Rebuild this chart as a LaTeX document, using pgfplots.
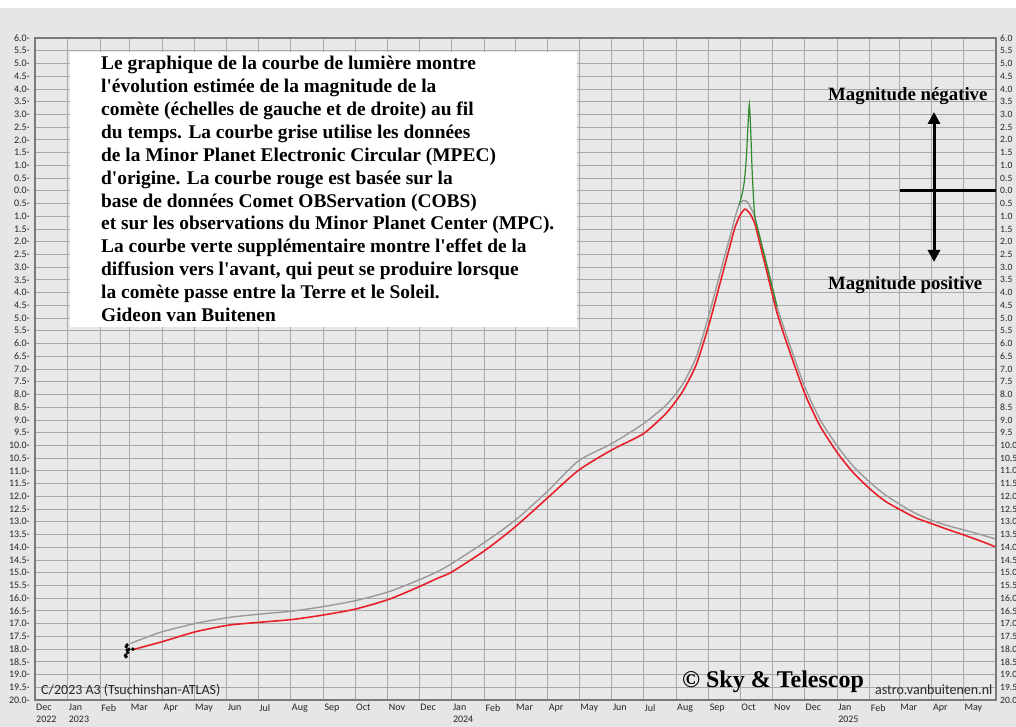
\documentclass[border=0pt]{standalone}
\usepackage{pgfplots}
\pgfplotsset{compat=1.18}
\usepackage{pgfplotstable}
\usepackage{fontspec}
\setmainfont{Liberation Serif}
\newfontfamily\calibri{Carlito}
\usetikzlibrary{arrows.meta}
\definecolor{pagebg}{HTML}{E6E6E6}
\definecolor{plotbg}{HTML}{E8E8E8}
\definecolor{gridc}{HTML}{A8A8A8}
\definecolor{framec}{HTML}{7A7A7A}
\definecolor{graycurve}{HTML}{9A9A9A}
\definecolor{redcurve}{HTML}{E8202A}
\definecolor{greencurve}{HTML}{2E8B2E}

\pgfplotstableread{
day mag
90.8 17.78
105 17.55
120.8 17.32
152.5 16.99
184 16.76
212.6 16.63
244 16.51
272.7 16.34
304.3 16.10
336 15.75
364.4 15.29
381.8 14.97
396 14.64
427.7 13.79
456.2 12.94
486.2 11.83
516.3 10.61
547.9 9.93
578 9.15
600 8.40
615 7.62
628 6.55
640 4.92
652.3 3.01
660 1.85
665 1.05
669 0.55
673 0.38
677 0.45
681 0.75
684 1.05
690 2.05
696.6 3.14
705 4.55
715.6 5.88
731.4 7.71
746 9.00
763 10.07
778 10.85
794.6 11.50
808 11.95
823 12.35
837 12.68
851.6 12.94
867 13.15
883.3 13.33
898 13.50
913 13.68
}\graydata

\pgfplotstableread{
day mag
94 18.01
120.8 17.71
152.5 17.32
184 17.06
212.6 16.95
244 16.84
272.7 16.67
304.3 16.43
336 16.05
364.4 15.56
381.8 15.23
396 14.97
427.7 14.12
456.2 13.20
486.2 12.09
516.3 10.98
547.9 10.18
578 9.54
600 8.72
615 7.90
628 6.85
640 5.30
652.3 3.40
660 2.20
665 1.44
670 0.95
674.5 0.72
679 0.88
684 1.31
690 2.30
696.6 3.40
705 4.80
715.6 6.15
731.4 7.97
746 9.25
763 10.33
778 11.10
794.6 11.76
808 12.20
823 12.55
837 12.85
851.6 13.07
867 13.30
883.3 13.53
898 13.75
913 13.99
}\reddata

\pgfplotstableread{
day mag
669 0.55
672 0.10
674 -0.40
675.5 -1.10
676.7 -2.00
677.8 -2.90
678.6 -3.40
679.4 -2.90
680.3 -2.00
681.3 -0.80
682.5 0.20
684 1.05
690 2.05
696.6 3.14
705 4.55
}\greendata

\pgfplotstableread{
day mag
86.7 17.91
87.6 18.04
89.2 18.01
93 18.00
86 18.24
88 18.14
87.5 17.84
86.5 18.30
}\obsdata

\begin{document}
\begin{tikzpicture}
\fill[pagebg] (0,0) rectangle (1016pt,719pt);
\fill[white] (0,719pt) rectangle (1016pt,727pt);
\begin{axis}[
  at={(35pt,27pt)}, anchor=south west,
  scale only axis, width=961pt, height=662pt,
  xmin=0, xmax=913, ymin=-6, ymax=20, y dir=reverse,
  axis background/.style={fill=plotbg},
  /pgf/number format/assume math mode=true,
  xtick={0,31,62,90,121,151,182,212,243,274,304,335,365,396,427,456,487,517,548,578,609,640,670,701,731,762,793,821,852,882},
  xticklabels={{Dec\\2022},{Jan\\2023},Feb,Mar,Apr,May,Jun,Jul,Aug,Sep,Oct,Nov,Dec,{Jan\\2024},Feb,Mar,Apr,May,Jun,Jul,Aug,Sep,Oct,Nov,Dec,{Jan\\2025},Feb,Mar,Apr,May},
  xticklabel style={anchor=north west, align=left, inner sep=0pt, yshift=-4pt, xshift=1pt, font=\calibri\fontsize{10}{12}\selectfont, text=black!85},
  ytick={-6,-5.5,...,20},
  yticklabel={\pgfmathparse{abs(\tick)}\pgfmathprintnumber[fixed,fixed zerofill,precision=1]{\pgfmathresult}-},
  yticklabel style={inner xsep=0pt, xshift=-5pt, font=\calibri\fontsize{10}{12}\selectfont, text=black!85},
  major tick length=0pt,
  grid=major, grid style={gridc, line width=0.8pt},
  axis line style={framec, line width=2pt},
]
\addplot[graycurve, line width=1.4pt, smooth, tension=0.4] table[x=day,y=mag] {\graydata};
\addplot[redcurve, line width=1.6pt, smooth, tension=0.4] table[x=day,y=mag] {\reddata};
\addplot[greencurve, line width=1.2pt, smooth, tension=0.3] table[x=day,y=mag] {\greendata};
\addplot[only marks, mark=*, mark size=1.6pt, black] table[x=day,y=mag] {\obsdata};
\end{axis}
\begin{axis}[
  at={(35pt,27pt)}, anchor=south west,
  scale only axis, width=961pt, height=662pt,
  xmin=0, xmax=913, ymin=-6, ymax=20, y dir=reverse,
  axis x line=none, axis y line*=right,
  /pgf/number format/assume math mode=true,
  ytick={-6,-5.5,...,20},
  yticklabel={\pgfmathparse{abs(\tick)}\pgfmathprintnumber[fixed,fixed zerofill,precision=1]{\pgfmathresult}},
  yticklabel style={anchor=west, inner xsep=0pt, xshift=4pt, font=\calibri\fontsize{9.6}{12}\selectfont, text=black!85},
  major tick length=0pt,
  axis line style={framec, line width=2pt},
]
\end{axis}
% text box
\fill[white] (70pt,400pt) rectangle (577pt,675pt);
\node[anchor=north west, align=left, inner sep=0pt, font=\fontsize{19.4}{22.9}\selectfont\bfseries] at (101pt,671pt) {%
Le graphique de la courbe de lumière montre\\
l\textquotesingle évolution estimée de la magnitude de la\\
comète (échelles de gauche et de droite) au fil\\
du temps. La courbe grise utilise les données\\
de la Minor Planet Electronic Circular (MPEC)\\
d\textquotesingle origine. La courbe rouge est basée sur la\\
base de données Comet OBServation (COBS)\\
et sur les observations du Minor Planet Center (MPC).\\
La courbe verte supplémentaire montre l\textquotesingle effet de la\\
diffusion vers l\textquotesingle avant, qui peut se produire lorsque\\
la comète passe entre la Terre et le Soleil.\\
Gideon van Buitenen};
% magnitude arrows
\node[anchor=base west, inner sep=0pt, font=\fontsize{18.8}{20}\selectfont\bfseries] at (828pt,626pt) {Magnitude négative};
\node[anchor=base west, inner sep=0pt, font=\fontsize{18.8}{20}\selectfont\bfseries] at (828pt,437pt) {Magnitude positive};
\draw[line width=3pt] (900pt,536.5pt) -- (996pt,536.5pt);
\draw[line width=3pt, -{Triangle[width=12pt,length=12pt]}] (934pt,537pt) -- (934pt,615pt);
\draw[line width=3pt, -{Triangle[width=12pt,length=12pt]}] (934pt,537pt) -- (934pt,465pt);
% bottom labels
\node[anchor=base west, inner sep=0pt, font=\calibri\fontsize{14}{16}\selectfont, text=black!85] at (41pt,32.5pt) {C/2023 A3 (Tsuchinshan-ATLAS)};
\node[anchor=base west, inner sep=0pt, font=\fontsize{24}{26}\selectfont\bfseries] at (682pt,39pt) {© Sky \& Telescop};
\node[anchor=base west, inner sep=0pt, font=\calibri\fontsize{14}{16}\selectfont, text=black!85] at (875pt,32.5pt) {astro.vanbuitenen.nl};
\pgfresetboundingbox
\path[use as bounding box] (0,0) rectangle (1016pt,727pt);
\end{tikzpicture}
\end{document}
